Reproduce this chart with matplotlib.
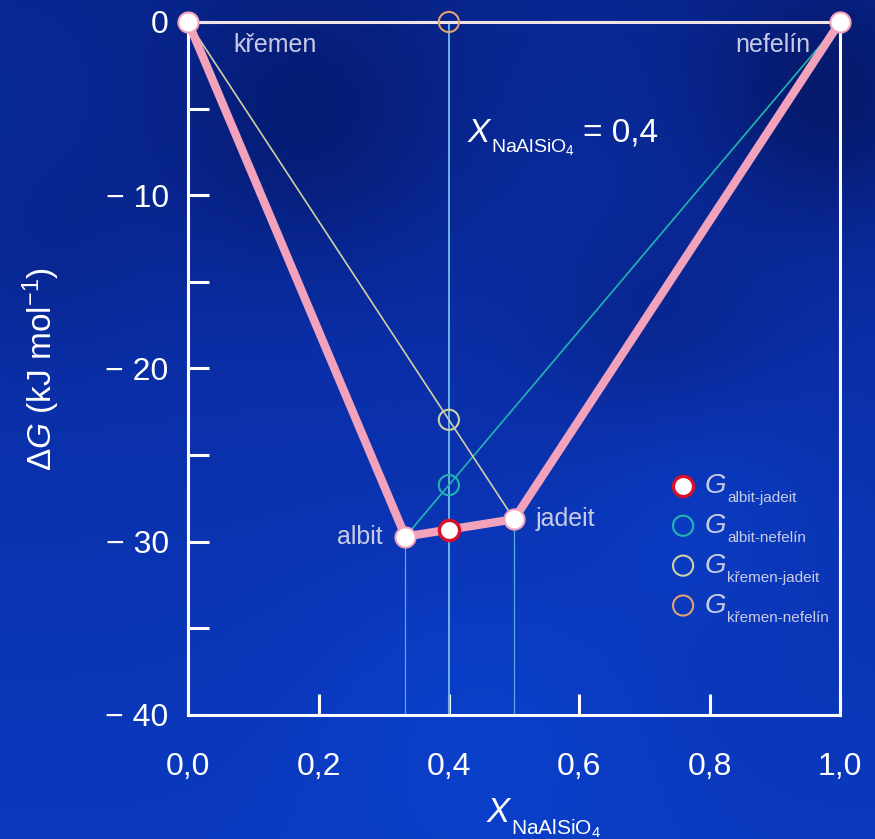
import numpy as np
import matplotlib.pyplot as plt
from matplotlib.colors import LinearSegmentedColormap
from matplotlib.ticker import MultipleLocator, FuncFormatter

plt.rcParams['font.family'] = ['Liberation Sans', 'DejaVu Sans']
plt.rcParams['mathtext.fontset'] = 'custom'
plt.rcParams['mathtext.rm'] = 'Liberation Sans'
plt.rcParams['mathtext.it'] = 'Liberation Sans:italic'

# phases: x = mole fraction NaAlSiO4, G in kJ/mol
phase_names = ['křemen', 'albit', 'jadeit', 'nefelín']
phase_x = [0.0, 1/3, 0.5, 1.0]
phase_G = [0.0, -29.7, -28.7, 0.0]
x_bulk = 0.4

# tie lines (index pairs into the phase lists) and their labels / colours
tie_pairs = [(1, 2), (1, 3), (0, 2), (0, 3)]
tie_labels = ['albit-jadeit', 'albit-nefelín', 'křemen-jadeit', 'křemen-nefelín']
tie_colors = ['#d8102a', '#22b4b0', '#cfcfa6', '#e2a274']

txt_col = '#c9cbe6'

fig = plt.figure(figsize=(8.75, 8.39), dpi=100)

# blue slide background
bg = fig.add_axes([0, 0, 1, 1], zorder=-10)
bg.axis('off')
yy, xx = np.mgrid[0:1:300j, 0:1:300j]   # yy = 0 at the top row
field = 0.45 + 0.35 * yy
for cx, cy, s, a in [(0.35, 0.15, 0.12, -0.25), (0.95, 0.12, 0.1, -0.3),
                     (0.55, 0.85, 0.15, 0.15), (0.8, 0.6, 0.1, 0.15),
                     (0.75, 0.4, 0.1, -0.15), (0.05, 0.3, 0.1, -0.1)]:
    field += a * np.exp(-((xx - cx) ** 2 + (yy - cy) ** 2) / (2 * s ** 2))
cmap = LinearSegmentedColormap.from_list('bl', ['#061a6e', '#0a2fa8', '#0a44d4'])
bg.imshow(field, cmap=cmap, extent=[0, 1, 0, 1], origin='upper', aspect='auto', vmin=0.2, vmax=1.0)

ax = fig.add_axes([0.215, 0.1478, 0.745, 0.826])
ax.set_facecolor('none')
ax.set_xlim(0, 1)
ax.set_ylim(-40, 0)


def add_sub(main, sub, size, dy, color):
    # subscript glued to the lower right corner of another text
    return ax.annotate(sub, xy=(1, 0), xycoords=main, xytext=(0.5, dy),
                       textcoords='offset points', fontsize=size, color=color,
                       ha='left', va='baseline', annotation_clip=False, zorder=10)


# vertical guides
for i in (1, 2):
    ax.plot([phase_x[i], phase_x[i]], [-40, phase_G[i]], color='#5aa8e0', lw=0.9, zorder=2)
ax.plot([x_bulk, x_bulk], [-40, 0], color='#6ab4e8', lw=1.4, zorder=2)

# thin tie lines
for (a, b), c, w in zip(tie_pairs[1:], tie_colors[1:], [1.2, 1.2, 2.2]):
    col = c if w < 2 else '#f0e4e6'
    ax.plot([phase_x[a], phase_x[b]], [phase_G[a], phase_G[b]], color=col, lw=w, zorder=3,
            clip_on=False)

# convex hull (thick pink)
hull = [0, 1, 2, 3]
ax.plot([phase_x[i] for i in hull], [phase_G[i] for i in hull], color='#f2a2ba',
        lw=6, solid_joinstyle='miter', zorder=4, clip_on=False)
ax.scatter(phase_x, phase_G, s=210, facecolor='white', edgecolor='#f2a2ba', lw=1.5, zorder=6,
           clip_on=False)

# G of each tie line at x_bulk
handles = []
for (a, b), c, lab in zip(tie_pairs, tie_colors, tie_labels):
    g = np.interp(x_bulk, [phase_x[a], phase_x[b]], [phase_G[a], phase_G[b]])
    if lab == 'albit-jadeit':
        h = ax.scatter([x_bulk], [g], s=210, facecolor='white', edgecolor=c, lw=2.4, zorder=7,
                       clip_on=False)
    else:
        h = ax.scatter([x_bulk], [g], s=210, facecolor='none', edgecolor=c, lw=1.5, zorder=5,
                       clip_on=False)
    handles.append(h)

leg = ax.legend(handles, ['G'] * len(handles),
                loc='upper left', bbox_to_anchor=(0.722, 0.365), frameon=False,
                prop={'style': 'italic', 'size': 20}, labelcolor=txt_col,
                handletextpad=0.3, labelspacing=0.5, borderaxespad=0,
                handlelength=0.95, markerscale=1.0)
for t, lab in zip(leg.get_texts(), tie_labels):
    add_sub(t, lab, 11, -2, txt_col)

# phase labels
ax.text(0.07, -1.3, 'křemen', color=txt_col, fontsize=18, ha='left', va='center')
ax.text(0.955, -1.3, 'nefelín', color=txt_col, fontsize=18, ha='right', va='center')
ax.text(phase_x[1] - 0.035, phase_G[1], 'albit', color=txt_col, fontsize=18, ha='right', va='center')
ax.text(phase_x[2] + 0.033, phase_G[2], 'jadeit', color=txt_col, fontsize=18, ha='left', va='center')

# X_NaAlSiO4 = 0,4
tx = ax.text(0.4294, -6.92, 'X', fontstyle='italic', color='white', fontsize=24,
             ha='left', va='baseline')
ts = add_sub(tx, r'NaAlSiO$_4$', 14, -2, 'white')
ax.annotate('= 0,4', xy=(1, 0), xycoords=(ts, tx), xytext=(6, 5),
            textcoords='offset points', fontsize=24, color='white', ha='left', va='baseline',
            zorder=10)

# axes styling
for s in ('left', 'right', 'bottom'):
    ax.spines[s].set_color('white')
    ax.spines[s].set_linewidth(2.2)
ax.spines['top'].set_visible(False)
ax.xaxis.set_major_locator(MultipleLocator(0.2))
ax.yaxis.set_major_locator(MultipleLocator(10))
ax.yaxis.set_minor_locator(MultipleLocator(5))
ax.xaxis.set_major_formatter(FuncFormatter(lambda v, p: f'{v:.1f}'.replace('.', ',')))
ax.yaxis.set_major_formatter(FuncFormatter(lambda v, p: f'{v:.0f}'.replace('-', '\u2212 ')))
ax.tick_params(which='both', direction='in', color='white', width=2.2, length=15,
               labelcolor='white', labelsize=23)
ax.tick_params(axis='y', pad=14)
ax.tick_params(axis='x', pad=27)
ax.tick_params(axis='y', which='both', right=False)

# x label
xl = ax.text(0.4586, -0.154, 'X', transform=ax.transAxes, fontstyle='italic', color='white',
             fontsize=25, ha='left', va='baseline')
add_sub(xl, r'NaAlSiO$_4$', 15, -4, 'white')

ax.set_ylabel(r'Δ$G$ (kJ mol$^{\mathrm{−1}}$)', color='white', fontsize=24)
ax.yaxis.set_label_coords(-0.193, 0.5)

plt.savefig('out.png', dpi=100)
